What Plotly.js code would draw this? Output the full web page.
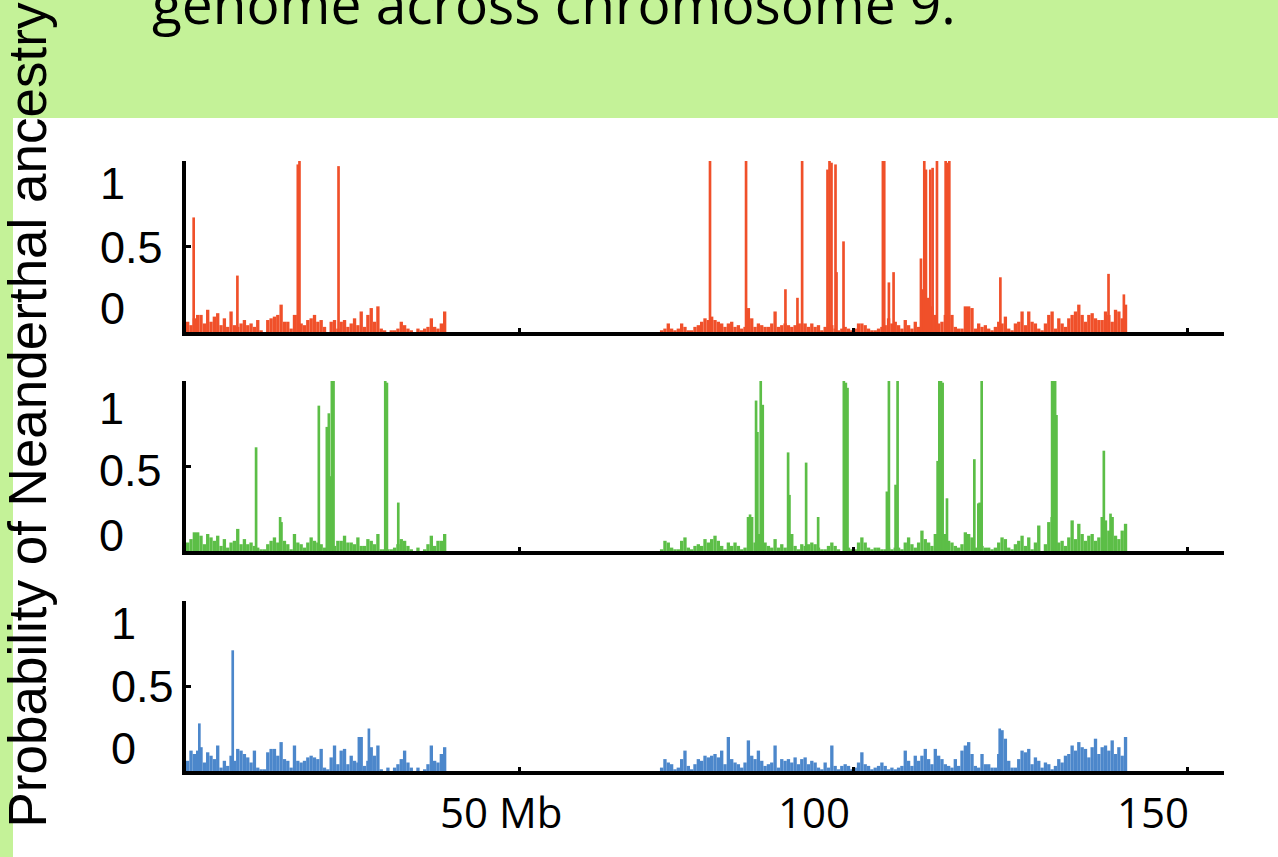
<!DOCTYPE html>
<html><head><meta charset="utf-8">
<script src="https://cdn.plot.ly/plotly-3.0.1.min.js"></script>
<style>html,body{margin:0;padding:0;background:#fff;overflow:hidden}#chart{width:1278px;height:857px}</style>
</head><body><div id="chart"></div>
<script>
// ---- data (Mb along chromosome 9, probability of Neanderthal ancestry) ----
const BIN_MB = 0.5;
const leftArmStartMb = 0;
const rightArmStartMb = 71;

const redLeft = [0.06,0.04,0.08,0.10,0.10,0.05,0.13,0.06,0.09,0.11,
0.04,0.08,0.03,0.12,0.04,0.03,0.05,0.07,0.04,0.05,
0.03,0.07,0.01,0.00,0.07,0.08,0.09,0.10,0.16,0.06,
0.06,0.02,0.10,0.10,0.05,0.04,0.07,0.08,0.10,0.06,
0.07,0.03,0.00,0.06,0.07,0.02,0.06,0.07,0.03,0.05,
0.08,0.04,0.12,0.03,0.10,0.14,0.06,0.15,0.02,0.01,
0.00,0.01,0.01,0.02,0.06,0.04,0.02,0.01,0.00,0.02,
0.01,0.02,0.03,0.08,0.03,0.02,0.05,0.12];
const redRight = [0.01,0.02,0.05,0.02,0.01,0.02,0.05,0.03,0.01,0.01,
0.03,0.04,0.06,0.08,0.07,0.09,0.07,0.06,0.05,0.03,
0.05,0.06,0.03,0.04,0.02,0.03,0.14,0.08,0.03,0.05,
0.04,0.03,0.03,0.05,0.12,0.03,0.04,0.05,0.04,0.03,
0.04,0.05,0.05,0.05,0.03,0.05,0.03,0.04,0.01,0.03,
0.05,0.04,0.02,0.01,0.02,0.03,0.02,0.01,0.02,0.05,
0.05,0.04,0.02,0.01,0.01,0.02,0.03,0.04,0.08,0.05,
0.06,0.04,0.02,0.07,0.04,0.02,0.06,0.03,0.25,0.30,
0.20,0.15,0.10,0.05,0.06,0.10,0.08,0.10,0.03,0.02,
0.02,0.15,0.15,0.14,0.02,0.05,0.03,0.04,0.02,0.01,
0.03,0.06,0.05,0.09,0.02,0.01,0.05,0.06,0.12,0.04,
0.12,0.06,0.05,0.02,0.01,0.05,0.10,0.12,0.02,0.08,
0.05,0.03,0.08,0.10,0.12,0.16,0.10,0.06,0.10,0.11,
0.08,0.07,0.07,0.12,0.10,0.06,0.13,0.12,0.08,0.16];
const redPeakMb = [1.15,7.7,16.75,17.0,22.85,78.5,83.9,89.8,91.6,92.3,96.1,96.4,96.7,97.3,97.45,98.5,104.4,104.6,105.3,106.0,110.1,110.6,110.85,111.5,111.85,112.5,113.8,114.1,114.35,122.0,138.2,140.5];
const redPeakVal = [0.67,0.33,0.98,1.0,0.97,1.0,1.0,0.25,0.20,1.0,0.95,1.0,0.99,0.98,0.35,0.53,1.0,1.0,0.29,0.35,0.43,1.0,0.95,0.95,0.96,1.0,1.0,0.99,1.0,0.32,0.34,0.22];

const greenLeft = [0.05,0.07,0.11,0.11,0.09,0.04,0.10,0.08,0.06,0.09,
0.03,0.07,0.02,0.05,0.06,0.13,0.04,0.07,0.04,0.05,
0.03,0.02,0.01,0.01,0.04,0.06,0.08,0.05,0.17,0.06,
0.04,0.01,0.10,0.05,0.04,0.02,0.05,0.08,0.06,0.05,
0.04,0.02,0.44,0.44,0.03,0.06,0.06,0.09,0.05,0.05,
0.04,0.08,0.03,0.03,0.07,0.06,0.04,0.10,0.01,0.01,
0.01,0.01,0.02,0.04,0.07,0.06,0.03,0.01,0.00,0.02,
0.00,0.01,0.04,0.09,0.03,0.06,0.06,0.10];
const greenRight = [0.01,0.06,0.05,0.02,0.01,0.01,0.06,0.08,0.02,0.01,
0.03,0.04,0.03,0.07,0.05,0.07,0.09,0.06,0.03,0.01,
0.05,0.03,0.05,0.03,0.01,0.02,0.20,0.20,0.05,0.10,
0.06,0.05,0.03,0.02,0.07,0.02,0.04,0.02,0.02,0.10,
0.03,0.01,0.04,0.03,0.04,0.05,0.04,0.02,0.01,0.01,
0.03,0.05,0.03,0.01,0.00,0.02,0.02,0.01,0.01,0.05,
0.08,0.05,0.02,0.01,0.02,0.02,0.01,0.01,0.02,0.01,
0.02,0.02,0.01,0.05,0.08,0.04,0.02,0.05,0.12,0.07,
0.05,0.03,0.10,0.05,0.10,0.10,0.06,0.05,0.03,0.02,
0.04,0.11,0.10,0.08,0.02,0.28,0.03,0.02,0.02,0.01,
0.02,0.05,0.08,0.07,0.02,0.01,0.04,0.06,0.09,0.03,
0.08,0.01,0.05,0.15,0.00,0.04,0.17,0.20,0.05,0.05,
0.06,0.03,0.08,0.18,0.07,0.16,0.10,0.06,0.09,0.10,
0.06,0.08,0.20,0.18,0.12,0.20,0.09,0.07,0.12,0.16];
const greenPeakMb = [10.5,14.1,19.9,21.1,21.4,21.85,22.1,29.85,30.1,31.8,84.5,85.4,85.6,86.1,86.4,90.2,90.4,92.9,94.7,98.55,98.85,99.1,105.0,105.3,106.3,106.6,112.6,112.85,113.1,113.35,114.0,118.1,118.9,119.2,129.75,130.0,130.2,130.4,137.5,138.5];
const greenPeakVal = [0.61,0.2,0.855,0.73,0.81,1.0,1.0,1.0,0.99,0.285,0.215,0.885,0.70,1.0,0.86,0.58,0.33,0.52,0.2,1.0,0.99,0.96,0.35,1.0,0.39,1.0,0.53,1.0,1.0,0.99,0.31,0.54,0.285,1.0,1.0,1.0,1.0,0.8,0.59,0.22];

const blueLeft = [0.06,0.12,0.10,0.12,0.14,0.05,0.11,0.09,0.07,0.15,
0.02,0.06,0.03,0.09,0.06,0.13,0.12,0.10,0.08,0.05,
0.12,0.02,0.01,0.01,0.11,0.13,0.13,0.09,0.17,0.07,
0.06,0.02,0.15,0.06,0.05,0.06,0.08,0.09,0.08,0.07,
0.13,0.02,0.01,0.08,0.15,0.04,0.12,0.13,0.04,0.09,
0.06,0.05,0.20,0.03,0.06,0.14,0.09,0.15,0.01,0.00,
0.02,0.00,0.02,0.04,0.07,0.12,0.05,0.02,0.00,0.02,
0.00,0.01,0.04,0.15,0.06,0.05,0.10,0.14];
const blueRight = [0.02,0.07,0.05,0.04,0.01,0.02,0.07,0.12,0.03,0.01,
0.04,0.07,0.06,0.09,0.08,0.09,0.10,0.08,0.12,0.04,
0.20,0.07,0.05,0.04,0.02,0.05,0.18,0.09,0.07,0.12,
0.06,0.03,0.04,0.05,0.15,0.02,0.07,0.06,0.07,0.05,
0.08,0.04,0.07,0.08,0.04,0.06,0.05,0.02,0.01,0.05,
0.02,0.15,0.03,0.01,0.03,0.04,0.03,0.01,0.02,0.05,
0.11,0.04,0.03,0.01,0.02,0.03,0.05,0.03,0.01,0.02,
0.01,0.02,0.03,0.12,0.06,0.03,0.09,0.06,0.09,0.13,
0.07,0.04,0.13,0.09,0.07,0.04,0.03,0.02,0.07,0.03,
0.12,0.15,0.17,0.10,0.03,0.02,0.10,0.04,0.04,0.02,
0.02,0.10,0.24,0.19,0.06,0.02,0.02,0.07,0.12,0.11,
0.13,0.04,0.08,0.06,0.02,0.05,0.04,0.01,0.03,0.07,
0.05,0.09,0.10,0.15,0.12,0.17,0.14,0.13,0.08,0.14,
0.19,0.10,0.14,0.15,0.12,0.18,0.10,0.14,0.09,0.20];
const bluePeakMb = [2.0,7.0,25.9,27.4,121.9];
const bluePeakVal = [0.28,0.71,0.2,0.25,0.25];

const yTickText = ['1','0.5','0'];
const xTickText = ['50 Mb','100','150'];
const xTickVals = [50,100,150];
const titleText = 'genome across chromosome 9.';
const yTitleText = 'Probability of Neanderthal ancestry';

// ---- layout helpers ----
const W = 1278, H = 857;
const px = x => x / W;
const py = y => 1 - y / H;

const panels = [
  {left: redLeft, right: redRight, pk: redPeakMb, pv: redPeakVal, color: '#F0502A', top: 161, bottom: 332, lblY: [183,247,308], lblX: 98},
  {left: greenLeft, right: greenRight, pk: greenPeakMb, pv: greenPeakVal, color: '#5CBE47', top: 381, bottom: 551, lblY: [408,471,535], lblX: 97},
  {left: blueLeft, right: blueRight, pk: bluePeakMb, pv: bluePeakVal, color: '#4C87CB', top: 601, bottom: 771, lblY: [623,686,748], lblX: 109}
];

const traces = [];
const layout = {
  width: W, height: H,
  margin: {l:0, r:0, t:0, b:0},
  paper_bgcolor: '#ffffff', plot_bgcolor: 'rgba(0,0,0,0)',
  showlegend: false, barmode: 'overlay',
  shapes: [
    {type:'rect', xref:'paper', yref:'paper', x0:0, x1:1, y0:py(118), y1:1, fillcolor:'#C4F298', line:{width:0}, layer:'below'},
    {type:'rect', xref:'paper', yref:'paper', x0:0, x1:px(13), y0:0, y1:1, fillcolor:'#C4F298', line:{width:0}, layer:'below'}
  ],
  annotations: [
    {text: titleText, xref:'paper', yref:'paper', x:px(150), y:py(42), xanchor:'left', yanchor:'bottom', showarrow:false,
     font:{family:'Open Sans, sans-serif', size:55, color:'#000'}},
    {text: yTitleText, xref:'paper', yref:'paper', x:px(27), y:py(830), xanchor:'center', yanchor:'bottom', textangle:-90, showarrow:false,
     font:{family:'Liberation Sans, Arial, sans-serif', size:53, color:'#000'}}
  ]
};

const xLblX = [501, 814, 1153];
xTickText.forEach((t, i) => layout.annotations.push({
  text: t, xref:'paper', yref:'paper', x:px(xLblX[i]), y:py(811), xanchor:'center', yanchor:'middle', showarrow:false,
  font:{family:'Open Sans, sans-serif', size:42, color:'#000'}
}));

panels.forEach((p, k) => {
  const sfx = k === 0 ? '' : String(k + 1);
  const xa = 'x' + sfx, ya = 'y' + sfx;
  const xs = [], ys = [];
  p.left.forEach((v, i) => { xs.push(leftArmStartMb + (i + 0.5) * BIN_MB); ys.push(v); });
  p.right.forEach((v, i) => { xs.push(rightArmStartMb + (i + 0.5) * BIN_MB); ys.push(v); });
  traces.push({type:'bar', x: xs, y: ys, width: BIN_MB, xaxis: xa, yaxis: ya,
    marker:{color: p.color, line:{width:0}}, hoverinfo:'x+y'});
  traces.push({type:'bar', x: p.pk, y: p.pv, width: 0.4, xaxis: xa, yaxis: ya,
    marker:{color: p.color, line:{width:0}}, hoverinfo:'x+y'});
  layout['xaxis' + sfx] = {domain:[px(186), px(1224)], range:[0, 155.5], anchor: ya,
    showline:true, linecolor:'#000', linewidth:4, ticks:'inside', tickvals: xTickVals, ticklen:4, tickwidth:3, tickcolor:'#000',
    showticklabels:false, showgrid:false, zeroline:false, fixedrange:true};
  layout['yaxis' + sfx] = {domain:[py(p.bottom), py(p.top)], range:[0, 1], anchor: xa,
    showline:true, linecolor:'#000', linewidth:4, ticks:'inside', tickvals:[0,0.5,1], ticklen:5, tickwidth:3, tickcolor:'#000',
    showticklabels:false, showgrid:false, zeroline:false, fixedrange:true};
  yTickText.forEach((t, i) => layout.annotations.push({
    text: t, xref:'paper', yref:'paper', x:px(p.lblX), y:py(p.lblY[i]), xanchor:'left', yanchor:'middle', showarrow:false,
    font:{family:'Liberation Sans, Arial, sans-serif', size:45, color:'#000'}
  }));
});

Plotly.newPlot('chart', traces, layout, {displayModeBar:false, staticPlot:true});
</script>
</body></html>
